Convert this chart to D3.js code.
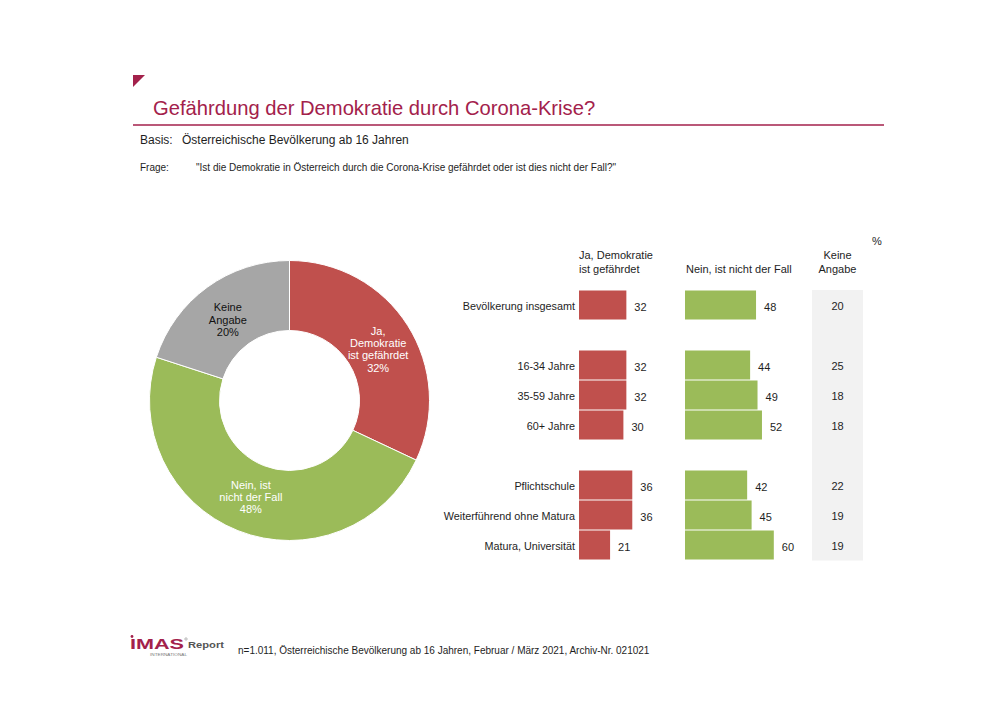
<!DOCTYPE html>
<html>
<head>
<meta charset="utf-8">
<script src="https://cdn.jsdelivr.net/npm/d3@7"></script>
<style>
  body { margin: 0; background: #fff; }
  svg { display: block; font-family: Arial, "Liberation Sans", sans-serif; }
</style>
</head>
<body>
<svg id="chart" width="1000" height="707"></svg>
<script>
// ---------- DATA ----------
const titleText = "Gefährdung der Demokratie durch Corona-Krise?";
const basisText = "Österreichische Bevölkerung ab 16 Jahren";
const frageText = "\"Ist die Demokratie in Österreich durch die Corona-Krise gefährdet oder ist dies nicht der Fall?\"";
const footerText = "n=1.011, Österreichische Bevölkerung ab 16 Jahren, Februar / März 2021, Archiv-Nr. 021021";

const pieLabels = [["Ja,", "Demokratie", "ist gefährdet"], ["Nein, ist", "nicht der Fall"], ["Keine", "Angabe"]];
const pieValues = [32, 48, 20];

const groups = [
  ["Bevölkerung insgesamt"],
  ["16-34 Jahre", "35-59 Jahre", "60+ Jahre"],
  ["Pflichtschule", "Weiterführend ohne Matura", "Matura, Universität"]
];
const jaValues    = [32, 32, 32, 30, 36, 36, 21];
const neinValues  = [48, 44, 49, 52, 42, 45, 60];
const keineValues = [20, 25, 18, 18, 22, 19, 19];

const headerJa = ["Ja, Demokratie", "ist gefährdet"];
const headerNein = ["Nein, ist nicht der Fall"];
const headerKeine = ["Keine", "Angabe"];

// ---------- STYLE ----------
const RED = "#c0504d", GREEN = "#9bbb59", GREY = "#a6a6a6";
const CRIMSON = "#a3214b";
const TXT = "#1e1e1e";

const svg = d3.select("#chart");

// ---------- HEADER ----------
svg.append("path")
  .attr("d", "M133,75 L145,75 L133,87 Z")
  .attr("fill", CRIMSON);
svg.append("text").attr("x", 153).attr("y", 115)
  .attr("font-size", 20.2).attr("fill", CRIMSON).text(titleText);
svg.append("line").attr("x1", 133).attr("x2", 884).attr("y1", 125).attr("y2", 125)
  .attr("stroke", CRIMSON).attr("stroke-width", 1.6);
svg.append("text").attr("x", 140).attr("y", 144).attr("font-size", 12).attr("fill", TXT).text("Basis:");
svg.append("text").attr("x", 182).attr("y", 144).attr("font-size", 12).attr("fill", TXT).text(basisText);
svg.append("text").attr("x", 140).attr("y", 171).attr("font-size", 10).attr("fill", TXT).text("Frage:");
svg.append("text").attr("x", 196).attr("y", 171).attr("font-size", 10).attr("fill", TXT).text(frageText);

// ---------- DONUT ----------
const cx = 289.5, cy = 400.5, rOuter = 140, rInner = 70;
const pie = d3.pie().sort(null).value(d => d)(pieValues);
const arc = d3.arc().innerRadius(rInner).outerRadius(rOuter);
const pieColors = [RED, GREEN, GREY];
const gPie = svg.append("g").attr("transform", `translate(${cx},${cy})`);
gPie.selectAll("path").data(pie).join("path")
  .attr("d", arc)
  .attr("fill", (d, i) => pieColors[i])
  .attr("stroke", "#fff").attr("stroke-width", 1);

const labelColors = ["#fff", "#fff", "#111"];
const labelDy = [5, -1, 4];
pie.forEach((d, i) => {
  const [x, y] = arc.centroid(d);
  const lines = pieLabels[i].concat([pieValues[i] + "%"]);
  const lh = 12.3;
  const t = gPie.append("text")
    .attr("text-anchor", "middle")
    .attr("font-size", 11)
    .attr("fill", labelColors[i]);
  lines.forEach((ln, j) => {
    t.append("tspan")
      .attr("x", x)
      .attr("y", y + labelDy[i] + (j - (lines.length - 1) / 2) * lh + 4)
      .text(ln);
  });
});

// ---------- BARS ----------
const rows = [];
const domainKeys = [];
groups.forEach((g, gi) => {
  if (gi > 0) domainKeys.push("spacer" + gi);
  g.forEach(c => { domainKeys.push(c); rows.push(c); });
});

const y = d3.scaleBand().domain(domainKeys).range([290.5, 560.5]).padding(0);
const x = d3.scaleLinear().domain([0, 100]).range([0, 148]);
const xRed = 579, xGreen = 685;
const bh = y.bandwidth() - 1;

// grey background column for Keine Angabe
svg.append("rect")
  .attr("x", 812).attr("width", 51)
  .attr("y", y.range()[0] - 0.5).attr("height", y.range()[1] - y.range()[0] + 0.5)
  .attr("fill", "#f2f2f2");

// category labels
svg.append("g").selectAll("text").data(rows).join("text")
  .attr("x", 575).attr("y", d => y(d) + y.bandwidth() / 2 + 4)
  .attr("text-anchor", "end").attr("font-size", 10.8).attr("fill", TXT)
  .text(d => d);

// Ja bars
const gJa = svg.append("g");
gJa.selectAll("rect").data(jaValues).join("rect")
  .attr("x", xRed).attr("y", (d, i) => y(rows[i]))
  .attr("width", d => x(d)).attr("height", bh)
  .attr("fill", RED);
gJa.selectAll("text").data(jaValues).join("text")
  .attr("x", d => xRed + x(d) + 8).attr("y", (d, i) => y(rows[i]) + y.bandwidth() / 2 + 5)
  .attr("font-size", 11).attr("fill", TXT).text(d => d);

// Nein bars
const gNein = svg.append("g");
gNein.selectAll("rect").data(neinValues).join("rect")
  .attr("x", xGreen).attr("y", (d, i) => y(rows[i]))
  .attr("width", d => x(d)).attr("height", bh)
  .attr("fill", GREEN);
gNein.selectAll("text").data(neinValues).join("text")
  .attr("x", d => xGreen + x(d) + 8).attr("y", (d, i) => y(rows[i]) + y.bandwidth() / 2 + 5)
  .attr("font-size", 11).attr("fill", TXT).text(d => d);

// Keine values
svg.append("g").selectAll("text").data(keineValues).join("text")
  .attr("x", 837.5).attr("y", (d, i) => y(rows[i]) + y.bandwidth() / 2 + 4)
  .attr("text-anchor", "middle").attr("font-size", 11).attr("fill", TXT).text(d => d);

// column headers
function header(lines, xx, anchor) {
  const t = svg.append("text").attr("font-size", 11).attr("fill", TXT).attr("text-anchor", anchor);
  lines.forEach((ln, j) => {
    t.append("tspan").attr("x", xx).attr("y", 273 - (lines.length - 1 - j) * 14).text(ln);
  });
}
header(headerJa, 579, "start");
header(headerNein, 686, "start");
header(headerKeine, 837.5, "middle");
svg.append("text").attr("x", 872).attr("y", 245).attr("font-size", 11).attr("fill", TXT).text("%");

// ---------- FOOTER ----------
const logo = svg.append("g");
logo.append("text").attr("x", 130).attr("y", 649).attr("font-size", 15).attr("font-weight", "bold")
  .attr("fill", CRIMSON).attr("textLength", 54).attr("lengthAdjust", "spacingAndGlyphs").text("IMAS");
logo.append("circle").attr("cx", 132).attr("cy", 636.5).attr("r", 1.4).attr("fill", CRIMSON);
logo.append("circle").attr("cx", 186).attr("cy", 639).attr("r", 1.2).attr("fill", "none")
  .attr("stroke", "#777").attr("stroke-width", 0.5);
logo.append("text").attr("x", 188).attr("y", 648).attr("font-size", 9.5).attr("font-weight", "bold")
  .attr("fill", "#555").attr("textLength", 36).attr("lengthAdjust", "spacingAndGlyphs").text("Report");
logo.append("text").attr("x", 150).attr("y", 656).attr("font-size", 4).attr("fill", "#777")
  .attr("textLength", 37).attr("lengthAdjust", "spacingAndGlyphs").text("INTERNATIONAL");
svg.append("text").attr("x", 238).attr("y", 654).attr("font-size", 10).attr("fill", TXT).text(footerText);
</script>
</body>
</html>
